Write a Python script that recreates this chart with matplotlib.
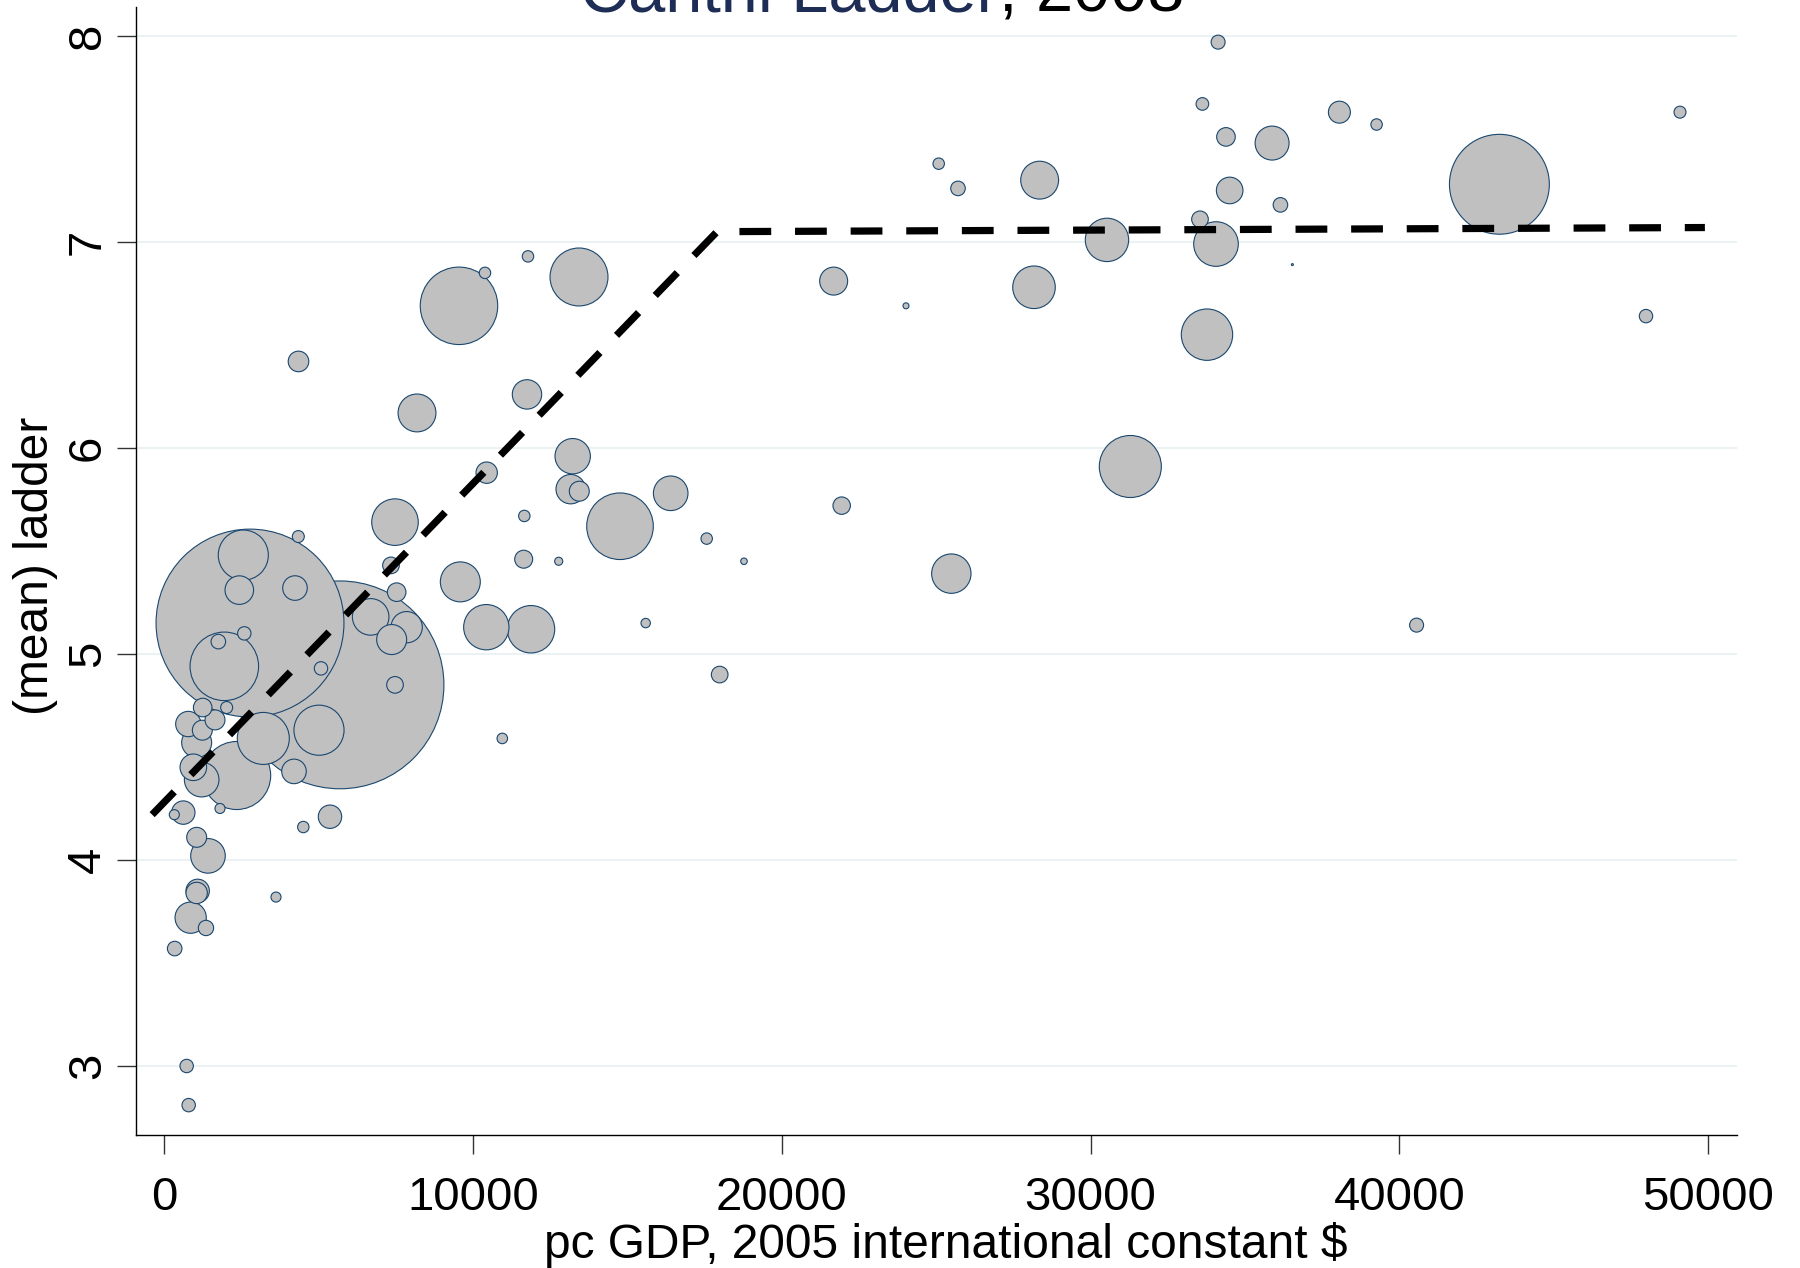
import numpy as np
import matplotlib
matplotlib.use('Agg')
import matplotlib.pyplot as plt

plt.rcParams['font.family'] = ['Liberation Sans', 'DejaVu Sans']

# per-country values: pc GDP, mean ladder, population (millions)
gdp = [5685, 2770, 2338, 1938, 2553, 3201, 5005, 2423, 4227, 4335,
       1744, 2585, 5070, 7467, 4195, 1237, 2014, 772, 1636, 1226,
       1042, 934, 1204, 1798, 609, 318, 1042, 1409, 1042, 1075,
       848, 1344, 330, 3612, 4497, 5361, 718, 783, 4341, 6679,
       7467, 7337, 7521, 7845, 7359, 9583, 10425, 11873, 10943, 11775,
       10382, 9540, 13428, 11743, 8180, 10437, 13223, 13158, 13437, 14756,
       16398, 17564, 18772, 11656, 11636, 12770, 15588, 17985,
       25080, 25705, 28350, 21677, 24020, 28167, 30531, 33544, 34063, 33771,
       34506, 34386, 35880, 36150, 21937, 25489, 31287, 34131, 33622, 38060,
       39265, 36537, 43243, 49093, 47992, 40561]
ladder = [4.85, 5.15, 4.41, 4.94, 5.48, 4.59, 4.63, 5.31, 5.32, 5.57,
          5.06, 5.10, 4.93, 4.85, 4.43, 4.74, 4.74, 4.66, 4.68, 4.63,
          4.57, 4.45, 4.39, 4.25, 4.23, 4.22, 4.11, 4.02, 3.84, 3.85,
          3.72, 3.67, 3.57, 3.82, 4.16, 4.21, 3.00, 2.81, 6.42, 5.18,
          5.64, 5.43, 5.30, 5.13, 5.07, 5.35, 5.13, 5.12, 4.59, 6.93,
          6.85, 6.69, 6.83, 6.26, 6.17, 5.88, 5.96, 5.80, 5.79, 5.62,
          5.78, 5.56, 5.45, 5.67, 5.46, 5.45, 5.15, 4.90,
          7.38, 7.26, 7.30, 6.81, 6.69, 6.78, 7.01, 7.11, 6.99, 6.55,
          7.25, 7.51, 7.48, 7.18, 5.72, 5.39, 5.91, 7.97, 7.67, 7.63,
          7.57, 6.89, 7.28, 7.63, 6.64, 5.14]
pop = [1325, 1083, 142, 144, 77, 83, 77, 25, 18.5, 4.4,
       6.5, 5.5, 5.5, 8.5, 18.5, 10.6, 4.4, 19.7, 12.2, 12.2,
       27.6, 21.7, 36.7, 3.1, 16.8, 3.1, 12.2, 36.7, 14, 16.8,
       30, 7.2, 6.5, 3.1, 4, 16.8, 5.5, 5.5, 13, 41,
       66.5, 8.5, 10.6, 30, 27.6, 49, 63, 69, 3.4, 4,
       4, 184, 103, 26.5, 44, 14, 38.4, 26.5, 12.2, 136,
       36.7, 4, 1.3, 4, 9.9, 2, 2.7, 8.5,
       4, 6.5, 44, 24, 1.1, 55.6, 57.7, 8.5, 61, 81,
       21.7, 10.6, 35.4, 6.5, 9.3, 47.6, 118, 6, 4.9, 14.8,
       4, 0.12, 306, 4.4, 5.5, 6]

# piecewise linear fit with knot near 18000
fit_gdp = [-400, 17900, 49900]
fit_ladder = [4.22, 7.05, 7.07]

xticks = [0, 10000, 20000, 30000, 40000, 50000]
yticks = [3, 4, 5, 6, 7, 8]

gdp = np.array(gdp)
ladder = np.array(ladder)
pop = np.array(pop)
order = np.argsort(-pop)  # big bubbles first

fig = plt.figure(figsize=(18, 12.68), dpi=100)
ax = fig.add_axes([0.075556, 0.10489, 0.88944, 0.88983])

ax.scatter(gdp[order], ladder[order], s=pop[order] * 16.9,
           facecolor='#c0c0c0', edgecolor='#1a476f', linewidths=0.8, zorder=2)
ax.plot(fit_gdp, fit_ladder, color='black', lw=5.2,
        linestyle=(0, (4.4, 3.3)), dash_capstyle='butt', zorder=3)

ax.set_xlim(-923, 50940)
ax.set_ylim(2.665, 8.142)

ax.set_xticks(xticks)
ax.set_xticklabels([str(t) for t in xticks])
ax.set_yticks(yticks)
ax.set_yticklabels([str(t) for t in yticks], rotation=90, va='center')

ax.tick_params(axis='both', length=13.7, width=1.0, color='#333333',
               labelsize=34, direction='out')
ax.tick_params(axis='x', pad=15.5)
ax.tick_params(axis='y', pad=5)

ax.set_axisbelow(True)
ax.yaxis.grid(True, color='#e8f0f1', linewidth=1.2)

for side in ['top', 'right']:
    ax.spines[side].set_visible(False)
for side in ['left', 'bottom']:
    ax.spines[side].set_color('black')
    ax.spines[side].set_linewidth(1.0)

ax.set_xlabel('pc GDP, 2005 international constant $', fontsize=34.5)
ax.xaxis.set_label_coords(0.5056, -0.0771)
ax.set_ylabel('(mean) ladder', fontsize=34.5)
ax.yaxis.set_label_coords(-0.0487, 0.5047)

# title runs off the top edge, split colour as in the original
fig.text(999 / 1800, 1 - 12 / 1268, 'Cantril Ladder', ha='right', va='baseline',
         color='#1e2d55', fontsize=48)
fig.text(999 / 1800, 1 - 12 / 1268, ', 2008', ha='left', va='baseline',
         color='black', fontsize=48)

plt.savefig('out.png', dpi=100, facecolor='white')
